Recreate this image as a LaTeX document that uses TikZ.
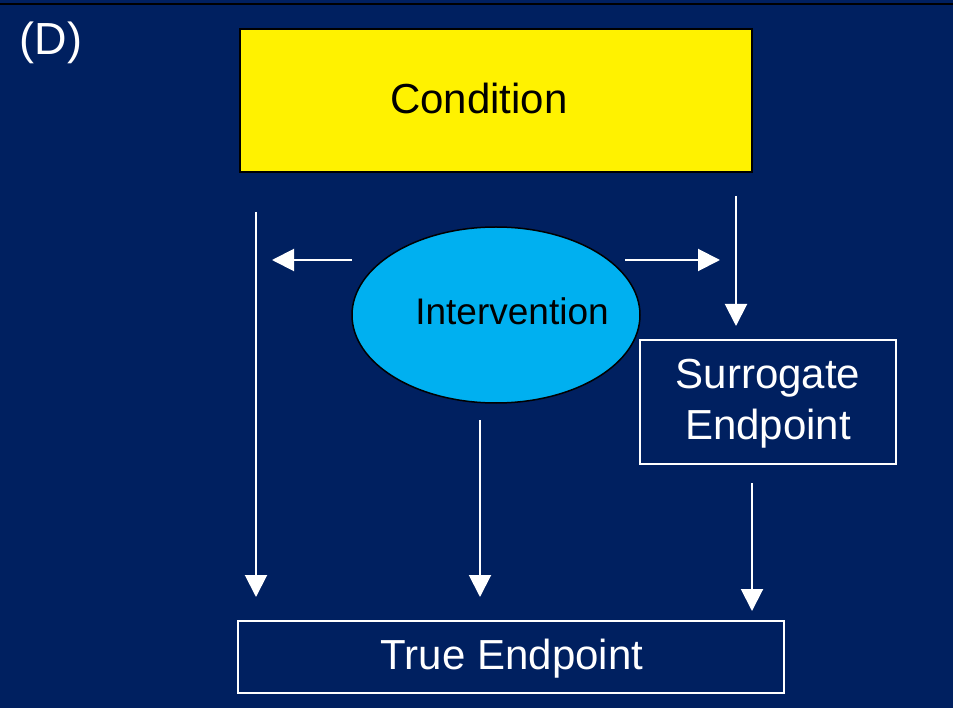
\documentclass[tikz,border=0pt]{standalone}
\usepackage{fontspec}
\setmainfont{Liberation Sans}
\usetikzlibrary{arrows.meta,shapes.geometric}
\definecolor{navy}{RGB}{0,32,96}
\definecolor{skyblue}{RGB}{0,176,240}
\begin{document}
\begin{tikzpicture}[x=1pt,y=-1pt,
  lbl/.style={font=\fontsize{42}{50}\selectfont},
  wbox/.style={draw=white,line width=1.5pt,inner sep=0pt},
  arr/.style={draw=white,line width=2pt,-{Triangle[width=22pt,length=22pt]}}]
\fill[navy] (0,0) rectangle (953,708);
\useasboundingbox (0,0) rectangle (953,708);
\draw[black,line width=2.5pt] (0,4) -- (953,4);
\node[text=white,anchor=west,font=\fontsize{45}{54}\selectfont] (lab) at (16,43) {(D)};
\node[draw=black,line width=2pt,fill=yellow,minimum width=512pt,minimum height=143pt,inner sep=0pt] (cond) at (496,100.5) {};
\node[lbl,text=black] (condt) at (479,98) {Condition};
\node[ellipse,draw=black,line width=1.5pt,fill=skyblue,minimum width=288pt,minimum height=176pt,inner sep=0pt] (int) at (496,315) {};
\node[font=\fontsize{37}{44}\selectfont,text=black] (intt) at (512,311) {Intervention};
\node[wbox,minimum width=256pt,minimum height=124pt] (sur) at (768,402) {};
\node[text=white,align=center,font=\fontsize{42}{51}\selectfont] (surt) at (768,404) {Surrogate\\Endpoint};
\node[wbox,minimum width=546pt,minimum height=72pt] (true) at (511,657) {};
\node[lbl,text=white] (truet) at (512,659) {True Endpoint};
% arrow endpoints
\coordinate (l1) at (256,212); \coordinate (l2) at (256,597);
\coordinate (h1) at (352,260); \coordinate (h2) at (272,260);
\coordinate (r1) at (625,260); \coordinate (r2) at (720,260);
\coordinate (v1) at (736,196); \coordinate (v2) at (736,326);
\coordinate (m1) at (480,420); \coordinate (m2) at (480,597);
\coordinate (s1) at (752,483); \coordinate (s2) at (752,611);
\draw[arr] (l1) -- (l2);
\draw[arr] (h1) -- (h2);
\draw[arr] (r1) -- (r2);
\draw[arr] (v1) -- (v2);
\draw[arr] (m1) -- (m2);
\draw[arr] (s1) -- (s2);
\end{tikzpicture}
\end{document}
